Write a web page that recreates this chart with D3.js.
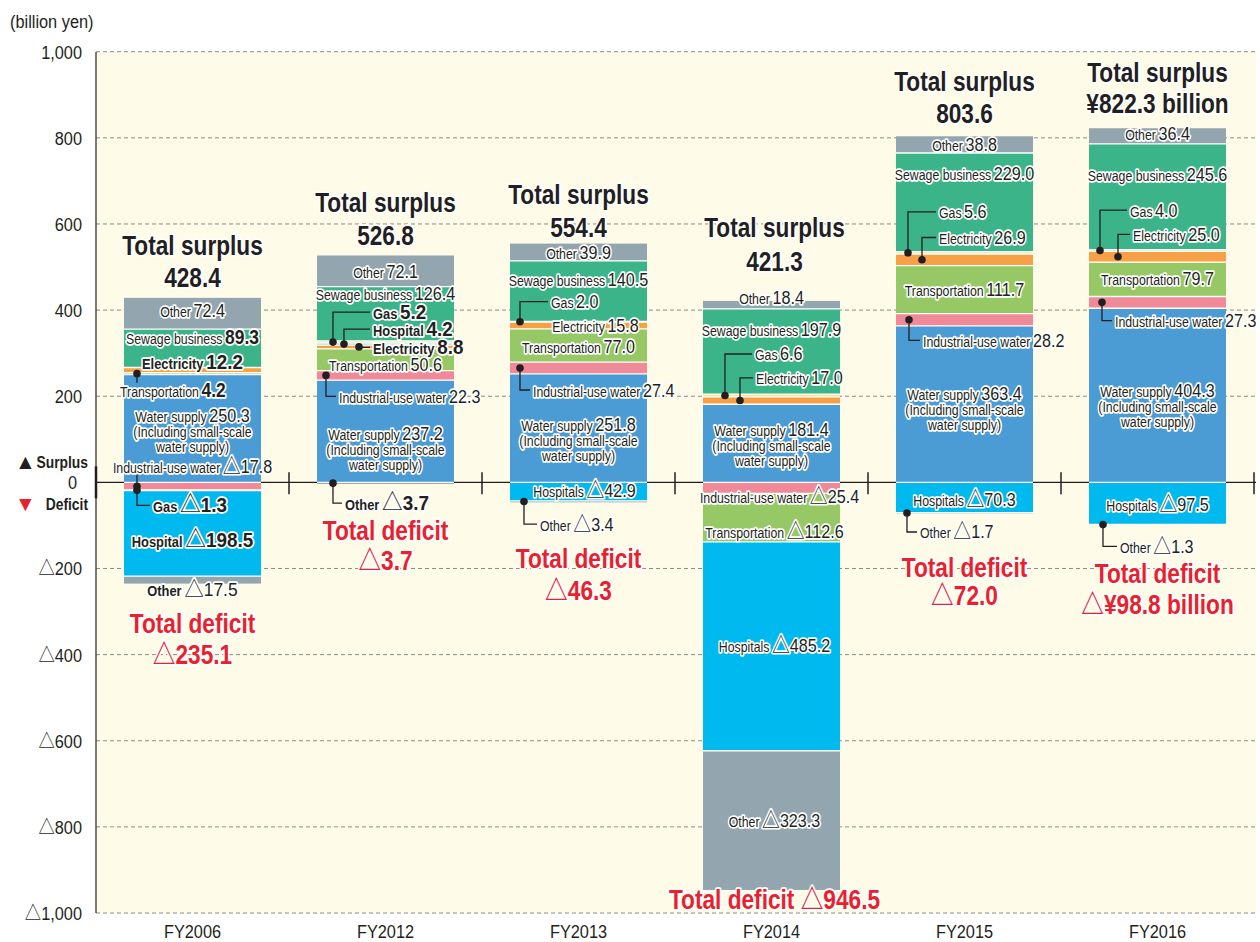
<!DOCTYPE html>
<html>
<head>
<meta charset="utf-8">
<script src="https://cdn.jsdelivr.net/npm/d3@7"></script>
<style>
  body { margin: 0; background: #ffffff; }
  svg text { font-family: "Liberation Sans", Arial, "Noto Sans CJK JP", "DejaVu Sans", sans-serif; fill: #231f20; }
</style>
</head>
<body>
<svg id="chart" width="1260" height="942"></svg>
<script>
// ---- Data (billion yen; negative = deficit) ----
const years = ["FY2006", "FY2012", "FY2013", "FY2014", "FY2015", "FY2016"];

const waterSupply     = [250.3, 237.2, 251.8, 181.4, 363.4, 404.3];
const industrialWater = [-17.8, 22.3, 27.4, -25.4, 28.2, 27.3];
const transportation  = [4.2, 50.6, 77.0, -112.6, 111.7, 79.7];
const electricity     = [12.2, 8.8, 15.8, 17.0, 26.9, 25.0];
const hospitals       = [-198.5, 4.2, -42.9, -485.2, -70.3, -97.5];
const gas             = [-1.3, 5.2, 2.0, 6.6, 5.6, 4.0];
const sewage          = [89.3, 126.4, 140.5, 197.9, 229.0, 245.6];
const otherSurplus    = [72.4, 72.1, 39.9, 18.4, 38.8, 36.4];
const otherDeficit    = [-17.5, -3.7, -3.4, -323.3, -1.7, -1.3];

const totalSurplus = [428.4, 526.8, 554.4, 421.3, 803.6, 822.3];
const totalDeficit = [-235.1, -3.7, -46.3, -946.5, -72.0, -98.8];

const yTicks = [1000, 800, 600, 400, 200, 0, -200, -400, -600, -800, -1000];

const series = [
  { key: "water",        name: "Water supply",         values: waterSupply },
  { key: "industrial",   name: "Industrial-use water", values: industrialWater },
  { key: "transport",    name: "Transportation",       values: transportation },
  { key: "electricity",  name: "Electricity",          values: electricity },
  { key: "hospitals",    name: "Hospitals",            values: hospitals },
  { key: "gas",          name: "Gas",                  values: gas },
  { key: "sewage",       name: "Sewage business",      values: sewage },
  { key: "otherSurplus", name: "Other",                values: otherSurplus },
  { key: "otherDeficit", name: "Other",                values: otherDeficit }
];

// ---- Styling ----
const palette = {
  water: "#4b9bd5", industrial: "#f08a98", transport: "#96c965",
  electricity: "#f7a046", hospitals: "#00b9ef", gas: "#f6e7a0",
  sewage: "#3cb48a", otherSurplus: "#93a6b0", otherDeficit: "#93a6b0"
};
const INK = "#231f20", RED = "#e8212e";

// stacking order away from zero
const posOrder = ["water", "industrial", "transport", "electricity", "hospitals", "gas", "sewage", "otherSurplus"];
const negOrder = ["industrial", "transport", "gas", "hospitals", "otherDeficit"];

// label placement per fiscal year (offsets in px from segment centre / bar left)
const labelPlan = [
  [ // FY2006
    { k: "otherSurplus", dy: -2.5 },
    { k: "sewage", dy: -11, bv: true },
    { k: "electricity", dy: -8, bn: true, bv: true },
    { k: "transport", lead: { dot: 13, ty: 17, stub: true, tx: -4 }, bv: true },
    { k: "water", dy: -12.5 },
    { k: "industrial", lead: { dot: 13, ty: -20, stub: true } },
    { k: "gas", lead: { dot: 13, ty: 15, tx: 29 }, bn: true, bv: true },
    { k: "hospitals", name: "Hospital", dy: 6.7, bn: true, bv: true },
    { k: "otherDeficit", dy: 10, bn: true }
  ],
  [ // FY2012
    { k: "otherSurplus", dy: 0 },
    { k: "sewage", dy: -20 },
    { k: "gas", lead: { dot: 16, ty: -30, tx: 56 }, bn: true, bv: true },
    { k: "hospitals", name: "Hospital", lead: { dot: 27, ty: -15, tx: 56 }, bn: true, bv: true },
    { k: "electricity", lead: { dot: 42, ty: 0.5, tx: 56 }, bn: true, bv: true },
    { k: "transport", dy: 5 },
    { k: "industrial", lead: { dot: 9, ty: 21, tx: 22 } },
    { k: "water", dy: 2 },
    { k: "otherDeficit", lead: { dot: 16, ty: 20, tx: 28 }, bn: true, bv: true }
  ],
  [ // FY2013
    { k: "otherSurplus", dy: 0 },
    { k: "sewage", dy: -12 },
    { k: "gas", lead: { dot: 10, ty: -20, tx: 41 } },
    { k: "electricity", dx: 17, dy: 0 },
    { k: "transport", dy: 0.5 },
    { k: "industrial", lead: { dot: 10, ty: 22, tx: 23 } },
    { k: "water", dy: -4 },
    { k: "hospitals", dx: 6, dy: -1.5 },
    { k: "otherDeficit", lead: { dot: 14, ty: 22.5, tx: 30 } }
  ],
  [ // FY2014
    { k: "otherSurplus", dy: -7 },
    { k: "sewage", dy: -22 },
    { k: "gas", lead: { dot: 22, ty: -41.5, tx: 52 } },
    { k: "electricity", lead: { dot: 37, ty: -22.6, tx: 53 } },
    { k: "water", dy: -14 },
    { k: "industrial", dx: 8, dy: 9 },
    { k: "transport", dx: 3, dy: 14 },
    { k: "hospitals", dx: 3, dy: -1 },
    { k: "otherDeficit", dx: 3, dy: 0 }
  ],
  [ // FY2015
    { k: "otherSurplus", dy: 0 },
    { k: "sewage", dy: -28.7 },
    { k: "gas", lead: { dot: 12, ty: -41, tx: 43 } },
    { k: "electricity", lead: { dot: 26, ty: -22.3, tx: 43 } },
    { k: "transport", dy: 0 },
    { k: "industrial", lead: { dot: 13, ty: 20.6, tx: 27 } },
    { k: "water", dy: -11 },
    { k: "hospitals", dy: 2 },
    { k: "otherDeficit", lead: { dot: 11, ty: 19, tx: 24 } }
  ],
  [ // FY2016
    { k: "otherSurplus", dy: -3 },
    { k: "sewage", dy: -22.5 },
    { k: "gas", lead: { dot: 11, ty: -40.5, tx: 41 } },
    { k: "electricity", lead: { dot: 29, ty: -22.5, tx: 44 } },
    { k: "transport", dy: -1 },
    { k: "industrial", lead: { dot: 13, ty: 18.3, tx: 26 } },
    { k: "water", dy: -5 },
    { k: "hospitals", dy: 1 },
    { k: "otherDeficit", lead: { dot: 14, ty: 21.8, tx: 31 } }
  ]
];

// positions of the total captions relative to bar top / bottom
const totalPlan = [
  { s: [-52, -20], d: [40, 71] },
  { s: [-52.5, -19.5], d: [47, 77] },
  { s: [-49, -16], d: [56, 88] },
  { s: [-73, -39], d: [10], dx: 3 },
  { s: [-55, -23], d: [54, 82] },
  { s: [-56, -25], d: [49, 80] }
];

// ---- Scales ----
const svg = d3.select("#chart");
const plotL = 96, plotR = 1256, plotT = 52, plotB = 913;
const y = d3.scaleLinear().domain([-1000, 1000]).range([913, 51.7]);
const x = d3.scaleBand().domain(years).range([96, 1254]).paddingInner(0.29).paddingOuter(0.145);
const step = x.step();

const fmt1 = d3.format(".1f");
const fmtVal = v => (v < 0 ? "△" : "") + fmt1(Math.abs(v));
const fmtTick = v => v === 0 ? "0" : (v < 0 ? "△" : "") + d3.format(",")(Math.abs(v));

// condensed text: horizontally squeezed about its anchor point
function ctext(parent, px, py, sx) {
  return parent.append("text").attr("transform", `translate(${px},${py}) scale(${sx},1)`);
}
function halo(sel) {
  return sel.attr("stroke", "#fff").attr("stroke-width", 3.5).attr("stroke-linejoin", "round")
    .attr("paint-order", "stroke");
}

// ---- Plot background & grid ----
svg.append("rect").attr("x", plotL).attr("y", plotT).attr("width", plotR - plotL).attr("height", plotB - plotT)
  .attr("fill", "#fffbe9");

svg.append("g").selectAll("line").data(yTicks.filter(d => d !== 0)).join("line")
  .attr("x1", plotL).attr("x2", plotR).attr("y1", d => y(d)).attr("y2", d => y(d))
  .attr("stroke", "#8c8c8c").attr("stroke-width", 1).attr("stroke-dasharray", "4,3");

svg.append("line").attr("x1", plotL).attr("x2", plotR).attr("y1", y(0)).attr("y2", y(0))
  .attr("stroke", INK).attr("stroke-width", 1.3);

// category separators on the zero line
svg.append("g").selectAll("line").data(d3.range(1, years.length + 1)).join("line")
  .attr("x1", d => 96 + d * step).attr("x2", d => 96 + d * step)
  .attr("y1", y(0) - 10).attr("y2", y(0) + 12)
  .attr("stroke", INK).attr("stroke-width", 1.5);

// left axis
svg.append("line").attr("x1", plotL).attr("x2", plotL).attr("y1", plotT).attr("y2", plotB)
  .attr("stroke", "#333").attr("stroke-width", 1.3);
svg.append("line").attr("x1", plotL).attr("x2", plotL).attr("y1", y(0) - 16).attr("y2", y(0) + 16)
  .attr("stroke", INK).attr("stroke-width", 2.5);

const axG = svg.append("g");
yTicks.forEach(v => {
  ctext(axG, v === 0 ? 77 : 82, y(v) + 7, 0.86).attr("text-anchor", "end").attr("font-size", 19).text(fmtTick(v));
});
ctext(svg, 10, 28, 0.86).attr("font-size", 19).text("(billion yen)");

// surplus / deficit key beside zero
svg.append("text").attr("x", 15).attr("y", 469).attr("font-size", 21).attr("font-family", "DejaVu Sans").text("▲");
ctext(svg, 88, 468, 0.84).attr("text-anchor", "end").attr("font-size", 16.5).attr("font-weight", "bold").text("Surplus");
svg.append("text").attr("x", 15).attr("y", 511).attr("font-size", 21).attr("font-family", "DejaVu Sans")
  .style("fill", RED).text("▼");
ctext(svg, 88, 510, 0.84).attr("text-anchor", "end").attr("font-size", 16.5).attr("font-weight", "bold").text("Deficit");

// x labels
years.forEach(yr => {
  ctext(svg, x(yr) + x.bandwidth() / 2, 937.5, 0.86).attr("text-anchor", "middle").attr("font-size", 19).text(yr);
});

// ---- Stacked segments ----
const byKey = Object.fromEntries(series.map(s => [s.key, s]));
const stacks = years.map((yr, i) => {
  const segs = [];
  let acc = 0;
  posOrder.forEach(k => {
    const v = byKey[k].values[i];
    if (v > 0) { segs.push({ k, i, v, y0: acc, y1: acc + v }); acc += v; }
  });
  acc = 0;
  negOrder.forEach(k => {
    const v = byKey[k].values[i];
    if (v < 0) { segs.push({ k, i, v, y0: acc, y1: acc + v }); acc += v; }
  });
  return segs;
});

const barG = svg.append("g");
stacks.forEach((segs, i) => {
  const g = barG.append("g");
  g.selectAll("rect").data(segs).join("rect")
    .attr("x", x(years[i])).attr("width", x.bandwidth())
    .attr("y", d => y(Math.max(d.y0, d.y1)))
    .attr("height", d => Math.abs(y(d.y0) - y(d.y1)))
    .attr("fill", d => palette[d.k]);
  // white seams between segments
  const seams = segs.filter(d => Math.abs(d.y1) < Math.max(...segs.filter(s => Math.sign(s.v) === Math.sign(d.v)).map(s => Math.abs(s.y1))));
  g.selectAll("line.seam").data(seams).join("line").attr("class", "seam")
    .attr("x1", x(years[i])).attr("x2", x(years[i]) + x.bandwidth())
    .attr("y1", d => y(d.y1)).attr("y2", d => y(d.y1))
    .attr("stroke", "#fff").attr("stroke-width", 1.3);
  if (segs.some(d => d.v < 0) && segs.some(d => d.v > 0)) {
    g.append("line").attr("x1", x(years[i])).attr("x2", x(years[i]) + x.bandwidth())
      .attr("y1", y(0)).attr("y2", y(0)).attr("stroke", "#fff").attr("stroke-width", 1.3);
  }
});

// ---- Labels ----
const labG = svg.append("g");
function segLabel(px, cy, anchor, name, v, bn, bv) {
  const t = halo(ctext(labG, px, cy + 6.5, bn ? 0.92 : 0.85)).attr("text-anchor", anchor);
  const vs = bv ? 20.5 : 19;
  t.append("tspan").attr("font-size", bn ? 14 : 14.5).attr("font-weight", bn ? "bold" : "normal").text(name);
  if (v < 0) {
    t.append("tspan").attr("dx", 3).attr("font-size", vs + 2).attr("font-family", "Noto Sans CJK JP")
      .attr("font-weight", "normal").text("△");
  }
  t.append("tspan").attr("dx", v < 0 ? 0 : 3).attr("font-size", vs).attr("font-weight", bv ? "bold" : "normal")
    .text(fmt1(Math.abs(v)));
  return t;
}

labelPlan.forEach((plan, i) => {
  const left = x(years[i]);
  const cx = left + x.bandwidth() / 2;
  plan.forEach(p => {
    const seg = stacks[i].find(s => s.k === p.k);
    if (!seg) return;
    const segC = (y(seg.y0) + y(seg.y1)) / 2;
    const name = p.name || byKey[p.k].name;
    if (p.lead) {
      const L = p.lead;
      const dx0 = left + L.dot, ty = segC + L.ty;
      let path, tx, anchor;
      if (L.stub) {
        path = `M${dx0},${segC}V${L.ty > 0 ? ty - 8 : ty + 7}`;
        tx = L.tx !== undefined ? left + L.tx : cx;
        anchor = L.tx !== undefined ? "start" : "middle";
      } else {
        tx = left + L.tx;
        path = `M${dx0},${segC}V${ty}H${tx - 3}`;
        anchor = "start";
      }
      labG.append("path").attr("d", path).attr("fill", "none").attr("stroke", INK).attr("stroke-width", 1.3);
      labG.append("circle").attr("cx", dx0).attr("cy", segC).attr("r", 3.8).attr("fill", INK);
      segLabel(tx, ty, anchor, name, seg.v, p.bn, p.bv);
    } else {
      segLabel(cx + (p.dx || 0), segC + p.dy, "middle", name, seg.v, p.bn, p.bv);
      if (p.k === "water") {
        ["(Including small-scale", "water supply)"].forEach((line, j) => {
          halo(ctext(labG, cx + (p.dx || 0), segC + p.dy + 6.5 + 15 * (j + 1), 0.85))
            .attr("text-anchor", "middle").attr("font-size", 14.5).text(line);
        });
      }
    }
  });
});

// ---- Totals ----
const last = years.length - 1;
function totalText(px, py, txt, color) {
  return halo(ctext(labG, px, py, 0.84)).attr("text-anchor", "middle")
    .attr("font-size", 27).attr("font-weight", "bold").style("fill", color).text(txt);
}
totalPlan.forEach((tp, i) => {
  const cx = x(years[i]) + x.bandwidth() / 2 + (tp.dx || 0);
  const top = y(totalSurplus[i]), bot = y(totalDeficit[i]);
  const sVal = i === last ? `¥${fmt1(totalSurplus[i])} billion` : fmt1(totalSurplus[i]);
  const dVal = i === last ? `△¥${fmt1(-totalDeficit[i])} billion` : fmtVal(totalDeficit[i]);
  totalText(cx, top + tp.s[0] + 9.5, "Total surplus", INK);
  totalText(cx, top + tp.s[1] + 9.5, sVal, INK);
  if (tp.d.length === 1) {
    totalText(cx, bot + tp.d[0] + 9.5, `Total deficit ${dVal}`, RED);
  } else {
    totalText(cx, bot + tp.d[0] + 9.5, "Total deficit", RED);
    totalText(cx, bot + tp.d[1] + 9.5, dVal, RED);
  }
});
</script>
</body>
</html>
